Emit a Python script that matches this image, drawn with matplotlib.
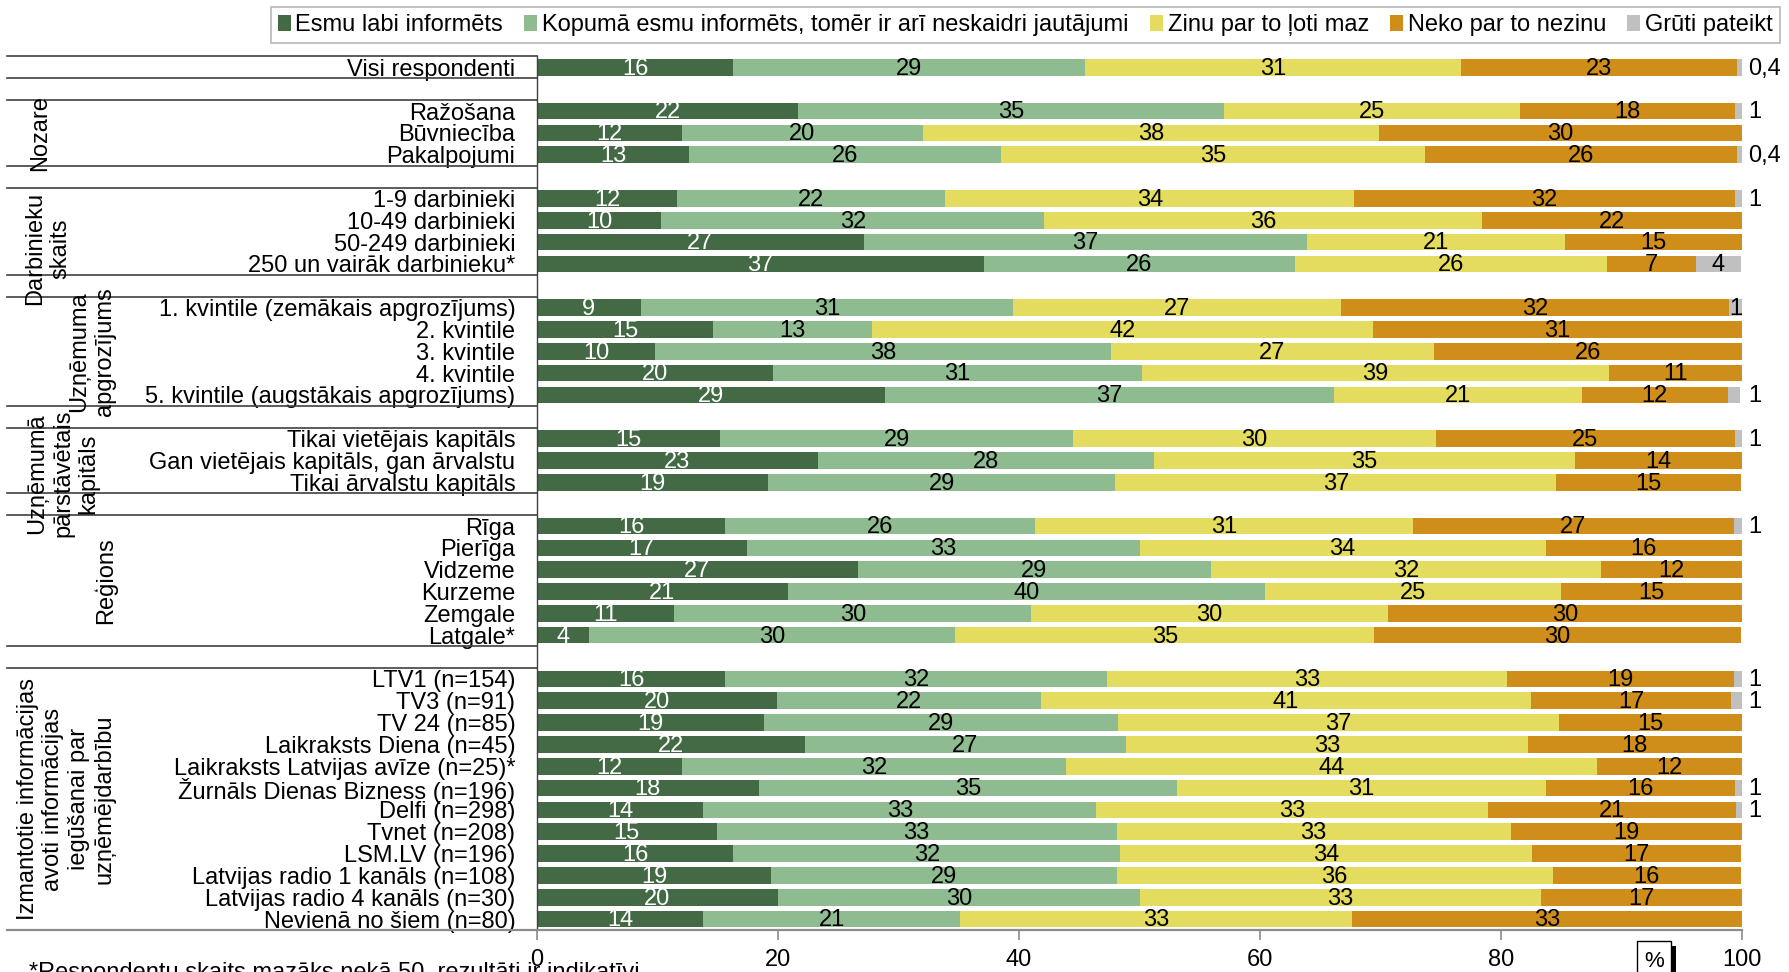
import numpy as np
import matplotlib
matplotlib.use("Agg")
import matplotlib.pyplot as plt
from matplotlib import font_manager
from matplotlib.patches import Patch, Rectangle
from matplotlib.transforms import blended_transform_factory

installed = {f.name for f in font_manager.fontManager.ttflist}
base = "Liberation Sans" if "Liberation Sans" in installed else "DejaVu Sans"
plt.rcParams["font.family"] = [base, "DejaVu Sans"]

# ---- data (spacer rows are "" / None) ----
series = ["Esmu labi informēts", "Kopumā esmu informēts, tomēr ir arī neskaidri jautājumi",
          "Zinu par to ļoti maz", "Neko par to nezinu", "Grūti pateikt"]
colors = ["#436a45", "#8fbb91", "#e4dc5f", "#cf8d19", "#c0c0c0"]

categories = [
    "Visi respondenti", "",
    "Ražošana", "Būvniecība", "Pakalpojumi", "",
    "1-9 darbinieki", "10-49 darbinieki", "50-249 darbinieki", "250 un vairāk darbinieku*", "",
    "1. kvintile (zemākais apgrozījums)", "2. kvintile", "3. kvintile", "4. kvintile",
    "5. kvintile (augstākais apgrozījums)", "",
    "Tikai vietējais kapitāls", "Gan vietējais kapitāls, gan ārvalstu", "Tikai ārvalstu kapitāls", "",
    "Rīga", "Pierīga", "Vidzeme", "Kurzeme", "Zemgale", "Latgale*", "",
    "LTV1 (n=154)", "TV3 (n=91)", "TV 24 (n=85)", "Laikraksts Diena (n=45)",
    "Laikraksts Latvijas avīze (n=25)*", "Žurnāls Dienas Bizness (n=196)", "Delfi (n=298)",
    "Tvnet (n=208)", "LSM.LV (n=196)", "Latvijas radio 1 kanāls (n=108)",
    "Latvijas radio 4 kanāls (n=30)", "Nevienā no šiem (n=80)",
]

labi = [16.3, None, 21.7, 12.0, 12.6, None, 11.6, 10.3, 27.1, 37.1, None,
        8.6, 14.6, 9.8, 19.6, 28.9, None, 15.2, 23.3, 19.2, None,
        15.6, 17.4, 26.6, 20.8, 11.4, 4.3, None,
        15.6, 19.9, 18.8, 22.2, 12.0, 18.4, 13.8, 14.9, 16.3, 19.4, 20.0, 13.8]
kopuma = [29.2, None, 35.3, 20.0, 25.9, None, 22.3, 31.8, 36.8, 25.8, None,
          30.9, 13.2, 37.8, 30.6, 37.2, None, 29.3, 27.9, 28.8, None,
          25.7, 32.6, 29.3, 39.6, 29.6, 30.4, None,
          31.7, 21.9, 29.4, 26.7, 31.9, 34.7, 32.6, 33.2, 32.1, 28.7, 30.0, 21.3]
maz = [31.2, None, 24.6, 37.9, 35.2, None, 33.9, 36.3, 21.4, 25.9, None,
       27.2, 41.6, 26.8, 38.8, 20.6, None, 30.1, 34.9, 36.6, None,
       31.4, 33.7, 32.4, 24.6, 29.6, 34.8, None,
       33.2, 40.7, 36.6, 33.3, 44.1, 30.6, 32.5, 32.7, 34.2, 36.2, 33.3, 32.5]
nezinu = [22.9, None, 17.8, 30.1, 25.9, None, 31.6, 21.6, 14.7, 7.4, None,
          32.2, 30.6, 25.6, 11.0, 12.1, None, 24.8, 13.9, 15.3, None,
          26.6, 16.3, 11.7, 15.0, 29.5, 30.4, None,
          18.8, 16.6, 15.2, 17.8, 12.0, 15.7, 20.6, 19.2, 17.3, 15.6, 16.7, 32.5]
gruti = [0.4, None, 0.6, 0, 0.4, None, 0.6, 0, 0, 3.7, None,
         1.1, 0, 0, 0, 1.0, None, 0.6, 0, 0, None,
         0.7, 0, 0, 0, 0, 0, None,
         0.7, 1.0, 0, 0, 0, 0.6, 0.7, 0, 0, 0, 0, 0]

groups = [
    ("Nozare", 40, 3.0),
    ("Darbinieku\nskaits", 48, 8.3),
    ("Uzņēmuma\napgrozījums", 92, 13.0),
    ("Uzņēmumā\npārstāvētais\nkapitāls", 63, 18.6),
    ("Reģions", 105, 23.5),
    ("Izmantotie informācijas\navoti informācijas\niegūšanai par\nuzņēmējdarbību", 66, 33.5),
]
gray_inside = {"250 un vairāk darbinieku*", "1. kvintile (zemākais apgrozījums)"}
footnote = "*Respondentu skaits mazāks nekā 50, rezultāti ir indikatīvi"


def fmt(v):
    if v < 0.5:
        return f"{v:.1f}".replace(".", ",")
    return str(int(v + 0.5))


W, H = 1790, 972
FS = 17
fig = plt.figure(figsize=(W / 100, H / 100), dpi=100)
ax = fig.add_axes([537 / W, 1 - 930 / H, 1205 / W, (930 - 56.5) / H])

y = np.arange(len(categories))
vals = [np.array(s, dtype=float) for s in (labi, kopuma, maz, nezinu, gruti)]
idx = ~np.isnan(vals[0])
left = np.zeros(len(categories))
for k, (v, c) in enumerate(zip(vals, colors)):
    ax.barh(y[idx], v[idx], left=left[idx], height=0.76, color=c, linewidth=0, zorder=2)
    for i in y[idx]:
        if v[i] <= 0:
            continue
        if k == 4 and categories[i] not in gray_inside:
            ax.text(100.5, i + 0.06, fmt(v[i]), ha="left", va="center", fontsize=FS, color="black")
        else:
            ax.text(left[i] + v[i] / 2, i + 0.06, fmt(v[i]), ha="center", va="center",
                    fontsize=FS, color="white" if k == 0 else "black", zorder=3)
    left[idx] += v[idx]

ax.set_xlim(0, 100)
ax.set_ylim(len(categories) - 0.5, -0.5)
ax.set_yticks(y[idx], [categories[i] for i in y[idx]], fontsize=FS)
ax.tick_params(axis="y", length=0, pad=15.5)
ax.set_xticks([0, 20, 40, 60, 80, 100])
ax.tick_params(axis="x", labelsize=FS, length=7, width=1.2, color="#8c8c8c", pad=7)
for s in ["top", "right"]:
    ax.spines[s].set_visible(False)
ax.spines["left"].set_color("#404040")
ax.spines["left"].set_linewidth(1.0)
ax.spines["bottom"].set_color("#8c8c8c")
ax.spines["bottom"].set_linewidth(1.6)

# table lines on the left
ytr = ax.get_yaxis_transform()
x0 = (7 - 537) / 1205
bounds = [-0.5]
for i, c in enumerate(categories):
    if c == "":
        bounds += [i - 0.5, i + 0.5]
for b in bounds:
    ax.plot([x0, 0], [b, b], transform=ytr, color="#404040", lw=1.2, clip_on=False)
ax.plot([x0, 0], [len(categories) - 0.5] * 2, transform=ytr, color="#8c8c8c", lw=1.6, clip_on=False)

# group labels (rotated)
gtr = blended_transform_factory(fig.transFigure, ax.transData)
for text, xp, row in groups:
    ax.text(xp / W, row, text, transform=gtr, rotation=90, ha="center", va="center",
            multialignment="center", fontsize=FS, linespacing=1.2)

# legend
handles = [Patch(facecolor=c, edgecolor="none") for c in colors]
leg = fig.legend(handles, series, loc="upper right", bbox_to_anchor=(1780 / W, 1 - 7 / H),
                 ncol=5, fontsize=FS, frameon=True, fancybox=False, edgecolor="#a6a6a6",
                 handlelength=0.55, handleheight=0.7, handletextpad=0.2, columnspacing=0.9,
                 borderpad=0.3, borderaxespad=0)
leg.get_frame().set_linewidth(1.2)

# "%" box at the bottom
fig.add_artist(Rectangle((1671 / W, -0.05), 5 / W, 0.05 + 1 - 946 / H, transform=fig.transFigure,
                         facecolor="black", edgecolor="none"))
fig.add_artist(Rectangle((1637 / W, -0.05), 34 / W, 0.05 + 1 - 941 / H, transform=fig.transFigure,
                         facecolor="white", edgecolor="black", linewidth=1.0))
fig.text(1654 / W, 1 - 961 / H, "%", ha="center", va="center", fontsize=16)

# footnote, cut off by the lower edge as in the source
fig.text(29 / W, 1 - 962 / H, footnote, ha="left", va="top", fontsize=FS)

fig.savefig("out.png", dpi=100)
print("saved")
